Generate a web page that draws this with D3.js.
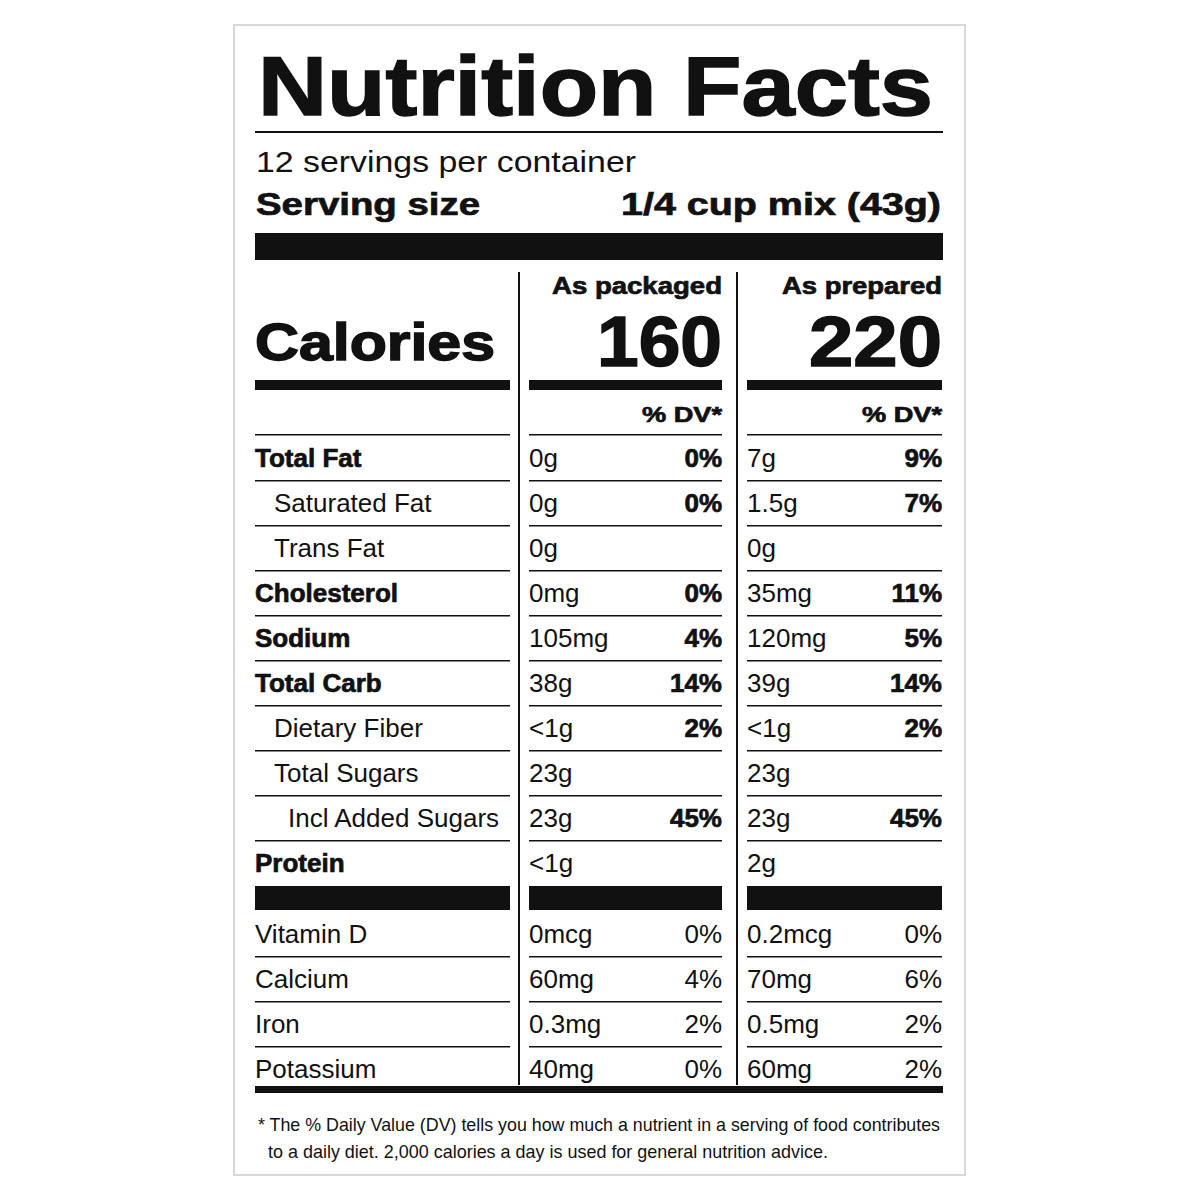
<!DOCTYPE html>
<html><head><meta charset="utf-8">
<script src="https://cdn.jsdelivr.net/npm/d3@7"></script>
<style>body{margin:0;background:#fff}svg{display:block}</style></head>
<body><script>
const columns = ["As packaged","As prepared"];
const calories = [160,220];
const nutrients = ["Total Fat","Saturated Fat","Trans Fat","Cholesterol","Sodium","Total Carb","Dietary Fiber","Total Sugars","Incl Added Sugars","Protein"];
const indent = [0,1,1,0,0,0,1,1,2,0];
const boldLabel = [1,0,0,1,1,1,0,0,0,1];
const packAmt = ["0g","0g","0g","0mg","105mg","38g","<1g","23g","23g","<1g"];
const packDV = ["0%","0%","","0%","4%","14%","2%","","45%",""];
const prepAmt = ["7g","1.5g","0g","35mg","120mg","39g","<1g","23g","23g","2g"];
const prepDV = ["9%","7%","","11%","5%","14%","2%","","45%",""];
const vitamins = ["Vitamin D","Calcium","Iron","Potassium"];
const vitPackAmt = ["0mcg","60mg","0.3mg","40mg"];
const vitPackDV = ["0%","4%","2%","0%"];
const vitPrepAmt = ["0.2mcg","70mg","0.5mg","60mg"];
const vitPrepDV = ["0%","6%","2%","2%"];
const footnote = ["* The % Daily Value (DV) tells you how much a nutrient in a serving of food contributes","to a daily diet. 2,000 calories a day is used for general nutrition advice."];

const F="'Liberation Sans',Arial,sans-serif";
const svg=d3.select("body").append("svg").attr("width",1200).attr("height",1200);
svg.append("rect").attr("x",234).attr("y",25).attr("width",731).attr("height",1150).attr("fill","#fff").attr("stroke","#d8d8d8").attr("stroke-width",2);
const t=(x,y,s,size,w,anchor,len)=>{const e=svg.append("text").attr("x",x).attr("y",y).text(s).attr("font-family",F).attr("font-size",size).attr("font-weight",w||400).attr("text-anchor",anchor||"start").attr("fill","#111");
  if(w===700)e.attr("stroke","#111").attr("stroke-width",size>40?1.5:0.7);
  if(len)e.attr("textLength",len).attr("lengthAdjust","spacingAndGlyphs");return e;};
const r=(x,y,w,h)=>svg.append("rect").attr("x",x).attr("y",y).attr("width",w).attr("height",h).attr("fill","#111");

t(258,115,"Nutrition Facts",84,700,"start",675);
r(255,131,688,2);
t(256,172,"12 servings per container",30,400,"start",380);
t(256,215,"Serving size",31,700,"start",224);
t(941,215,"1/4 cup mix (43g)",31,700,"end",320);
r(255,233,688,27);

const colL=[255,529,747], colR=[510,722,942];
r(518,272,2,813); r(736,272,2,813);
columns.forEach((c,i)=>{t(colR[i+1],294,c,23,700,"end",[170,160][i]);t(colR[i+1],366,calories[i],70,700,"end",[125,133][i]);});
t(255,360,"Calories",52,700,"start",240);
[0,1,2].forEach(i=>r(colL[i],380,colR[i]-colL[i],10));
[1,2].forEach(i=>t(colR[i],422,"% DV*",22,700,"end",80));
[0,1,2].forEach(i=>r(colL[i],434,colR[i]-colL[i],1.5));

const y=d3.scalePoint().domain(nutrients).range([467,872]);
nutrients.forEach((n,k)=>{
  const yy=y(n);
  t(255+[0,19,33][indent[k]],yy,n,26,boldLabel[k]?700:400);
  t(529,yy,packAmt[k],26,400); t(722,yy,packDV[k],26,700,"end");
  t(747,yy,prepAmt[k],26,400); t(942,yy,prepDV[k],26,700,"end");
  if(k<nutrients.length-1)[0,1,2].forEach(i=>r(colL[i],yy+13,colR[i]-colL[i],1.5));
});
[0,1,2].forEach(i=>r(colL[i],886,colR[i]-colL[i],24));
const yv=d3.scalePoint().domain(vitamins).range([943,1078]);
vitamins.forEach((n,k)=>{
  const yy=yv(n);
  t(255,yy,n,26,400);
  t(529,yy,vitPackAmt[k],26,400); t(722,yy,vitPackDV[k],26,400,"end");
  t(747,yy,vitPrepAmt[k],26,400); t(942,yy,vitPrepDV[k],26,400,"end");
  if(k<vitamins.length-1)[0,1,2].forEach(i=>r(colL[i],yy+13,colR[i]-colL[i],1.5));
});
r(255,1086,688,7);
t(258,1131,footnote[0],19,400,"start",682);
t(268,1158,footnote[1],19,400,"start",560);
</script></body></html>
